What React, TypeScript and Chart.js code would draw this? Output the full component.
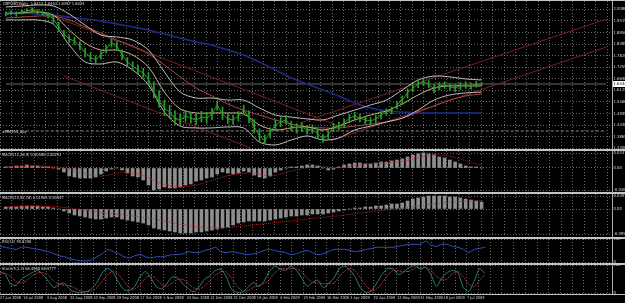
import React, { useEffect, useRef } from "react";
import { Chart, registerables } from "chart.js";

Chart.register(...registerables);

// ---------------- data ----------------
const dateLabels = [
  "27 Jun 2008", "16 Jul 2008", "4 Aug 2008", "22 Aug 2008", "10 Sep 2008", "29 Sep 2008",
  "17 Oct 2008", "5 Nov 2008", "24 Nov 2008", "12 Dec 2008", "31 Dec 2008", "19 Jan 2009",
  "6 Feb 2009", "25 Feb 2009", "16 Mar 2009", "2 Apr 2009", "22 Apr 2009", "12 May 2009",
  "31 May 2009", "18 Jun 2009", "7 Jul 2009",
];
const barsPerLabel = 13;
const sampleStep = 3; // bars between samples
const overlayStep = 9; // bars between overlay samples

const priceHigh = [
  1.995, 2.001, 1.996, 2.004, 2.010, 2.015, 2.006, 2.000, 1.992, 1.978,
  1.945, 1.905, 1.880, 1.872, 1.851, 1.818, 1.796, 1.781, 1.803, 1.832,
  1.862, 1.850, 1.810, 1.772, 1.752, 1.735, 1.720, 1.700, 1.655, 1.610,
  1.565, 1.540, 1.512, 1.498, 1.515, 1.505, 1.495, 1.510, 1.505, 1.525,
  1.560, 1.532, 1.500, 1.492, 1.510, 1.540, 1.512, 1.470, 1.425, 1.395,
  1.430, 1.468, 1.480, 1.490, 1.462, 1.450, 1.455, 1.442, 1.444, 1.425,
  1.398, 1.415, 1.452, 1.458, 1.472, 1.495, 1.505, 1.497, 1.486, 1.480,
  1.490, 1.510, 1.522, 1.532, 1.558, 1.585, 1.620, 1.642, 1.660, 1.668,
  1.660, 1.640, 1.650, 1.654, 1.645, 1.641, 1.650, 1.655, 1.648, 1.656,
  1.650,
];
const priceLow = [
  1.975, 1.980, 1.974, 1.985, 1.990, 1.994, 1.985, 1.979, 1.965, 1.940,
  1.900, 1.868, 1.846, 1.836, 1.810, 1.775, 1.756, 1.742, 1.765, 1.795,
  1.824, 1.806, 1.762, 1.730, 1.712, 1.690, 1.676, 1.640, 1.575, 1.530,
  1.490, 1.475, 1.445, 1.440, 1.462, 1.452, 1.445, 1.458, 1.452, 1.470,
  1.515, 1.470, 1.450, 1.446, 1.462, 1.492, 1.455, 1.405, 1.365, 1.352,
  1.380, 1.420, 1.435, 1.448, 1.415, 1.405, 1.412, 1.398, 1.402, 1.378,
  1.358, 1.372, 1.410, 1.418, 1.432, 1.455, 1.468, 1.458, 1.450, 1.445,
  1.455, 1.472, 1.490, 1.498, 1.520, 1.542, 1.575, 1.605, 1.625, 1.636,
  1.625, 1.600, 1.616, 1.622, 1.612, 1.606, 1.617, 1.622, 1.618, 1.628,
  1.636,
];
const priceClose = [
  1.985, 1.990, 1.985, 1.995, 2.000, 2.005, 1.995, 1.990, 1.980, 1.961,
  1.922, 1.887, 1.863, 1.853, 1.829, 1.795, 1.775, 1.761, 1.785, 1.814,
  1.843, 1.829, 1.785, 1.751, 1.731, 1.712, 1.697, 1.668, 1.604, 1.565,
  1.526, 1.507, 1.477, 1.468, 1.487, 1.477, 1.468, 1.482, 1.477, 1.497,
  1.541, 1.497, 1.473, 1.468, 1.487, 1.516, 1.482, 1.434, 1.390, 1.365,
  1.409, 1.443, 1.458, 1.468, 1.438, 1.429, 1.434, 1.419, 1.424, 1.399,
  1.375, 1.395, 1.434, 1.438, 1.453, 1.477, 1.487, 1.477, 1.468, 1.463,
  1.473, 1.492, 1.507, 1.516, 1.541, 1.565, 1.600, 1.624, 1.643, 1.653,
  1.643, 1.619, 1.634, 1.639, 1.629, 1.624, 1.634, 1.639, 1.634, 1.643,
  1.643,
];
const lastQuote = [1.6412, 1.6463, 1.6397, 1.6434];

const bbUpper = [
  2.019, 2.024, 2.029, 2.024, 1.985, 1.931, 1.882, 1.873, 1.858, 1.809,
  1.702, 1.604, 1.575, 1.575, 1.565, 1.565, 1.526, 1.492, 1.482, 1.473,
  1.468, 1.492, 1.516, 1.541, 1.565, 1.614, 1.663, 1.682, 1.678, 1.668, 1.663,
];
const bbMiddle = [
  1.985, 1.990, 1.995, 1.980, 1.907, 1.843, 1.809, 1.809, 1.785, 1.726,
  1.604, 1.521, 1.502, 1.502, 1.502, 1.497, 1.443, 1.419, 1.429, 1.434,
  1.419, 1.438, 1.468, 1.492, 1.512, 1.546, 1.590, 1.624, 1.634, 1.634, 1.634,
];
const bbLower = [
  1.956, 1.956, 1.956, 1.936, 1.834, 1.751, 1.741, 1.751, 1.712, 1.639,
  1.507, 1.438, 1.429, 1.429, 1.434, 1.429, 1.360, 1.346, 1.370, 1.390,
  1.370, 1.380, 1.419, 1.438, 1.458, 1.477, 1.516, 1.565, 1.590, 1.600, 1.604,
];
const maSlow = [
  1.965, 1.970, 1.975, 1.975, 1.956, 1.922, 1.892, 1.858, 1.829, 1.790,
  1.736, 1.678, 1.624, 1.585, 1.546, 1.516, 1.492, 1.468, 1.448, 1.434,
  1.429, 1.429, 1.438, 1.448, 1.458, 1.477, 1.507, 1.536, 1.565, 1.585, 1.595,
];
const maLong = [
  1.995, 1.990, 1.985, 1.980, 1.970, 1.961, 1.951, 1.936, 1.922, 1.907,
  1.887, 1.868, 1.848, 1.834, 1.809, 1.785, 1.751, 1.712, 1.673, 1.643,
  1.614, 1.585, 1.551, 1.526, 1.512, 1.507, 1.502, 1.502, 1.502, 1.502, 1.502,
];

// channel lines: [barIndex, price] endpoints
const channelDownUpper = [[0, 2.063], [192, 1.429]];
const channelDownLower = [[33, 1.682], [139, 1.331]];
const channelUpUpper = [[167, 1.453], [341, 1.961]];
const channelUpLower = [[184, 1.365], [341, 1.824]];
const buyLevel = 1.414;

const priceTicks = [2.008, 1.9515, 1.895, 1.8385, 1.782, 1.7255, 1.669, 1.6125, 1.556, 1.4995, 1.443, 1.3865, 1.33];

const macd1Hist = [
  0.0017, 0.0017, 0.0033, 0.0033, 0.005, 0.0033, 0.0033, 0.0017, 0.0017, 0.0,
  -0.0017, -0.0066, -0.0132, -0.0149, -0.0165, -0.0165, -0.0165, -0.0149, -0.0099, -0.005,
  -0.0017, 0.0, -0.0033, -0.0083, -0.0132, -0.0149, -0.0198, -0.0281, -0.0363, -0.0347,
  -0.0314, -0.033, -0.033, -0.0314, -0.0281, -0.0264, -0.0215, -0.0198, -0.0165, -0.0149,
  -0.0099, -0.0066, -0.0083, -0.0099, -0.0083, -0.005, -0.0066, -0.0116, -0.0149, -0.0165,
  -0.0132, -0.0066, -0.0033, 0.0, 0.0017, 0.0017, 0.0033, 0.005, 0.005, 0.0033,
  0.0, -0.0033, -0.0017, 0.0017, 0.005, 0.0066, 0.0083, 0.0083, 0.0066, 0.0066,
  0.0083, 0.0099, 0.0099, 0.0116, 0.0132, 0.0149, 0.0182, 0.0215, 0.0231, 0.0248,
  0.0231, 0.0215, 0.0182, 0.0165, 0.0132, 0.0099, 0.0066, 0.0033, 0.0017, 0.0017,
  0.0,
];
const macd1Signal = [
  0.002, 0.002, 0.0022, 0.0025, 0.003, 0.0033, 0.0034, 0.0032, 0.0028, 0.0022,
  0.0015, 0.0003, -0.002, -0.0045, -0.007, -0.0095, -0.0115, -0.013, -0.0135, -0.0125,
  -0.0105, -0.0085, -0.007, -0.0068, -0.008, -0.01, -0.0125, -0.016, -0.0205, -0.0245,
  -0.027, -0.029, -0.0305, -0.031, -0.0305, -0.0295, -0.028, -0.026, -0.0235, -0.021,
  -0.018, -0.015, -0.0125, -0.011, -0.01, -0.009, -0.008, -0.0085, -0.01, -0.012,
  -0.013, -0.012, -0.01, -0.0075, -0.005, -0.003, -0.0012, 0.0005, 0.002, 0.003,
  0.0028, 0.0015, 0.0005, 0.0003, 0.0012, 0.0025, 0.004, 0.0055, 0.0063, 0.0068,
  0.0072, 0.0078, 0.0085, 0.0093, 0.0102, 0.0113, 0.0128, 0.0148, 0.017, 0.0192,
  0.0208, 0.0217, 0.0218, 0.021, 0.0195, 0.0175, 0.015, 0.0122, 0.0095, 0.007,
  0.005,
];
const macd2Hist = [
  0.0076, 0.0076, 0.0076, 0.0114, 0.0114, 0.0114, 0.0114, 0.0076, 0.0076, 0.0038,
  0.0, -0.0076, -0.0152, -0.0228, -0.0266, -0.0304, -0.0342, -0.038, -0.038, -0.0342,
  -0.0304, -0.0304, -0.038, -0.0418, -0.0456, -0.0494, -0.0532, -0.0608, -0.0722, -0.076,
  -0.0798, -0.0836, -0.0874, -0.0912, -0.0912, -0.0912, -0.0874, -0.0874, -0.0836, -0.0798,
  -0.076, -0.0722, -0.0684, -0.0608, -0.0532, -0.0494, -0.0456, -0.0456, -0.0456, -0.0456,
  -0.0418, -0.038, -0.0342, -0.0304, -0.0266, -0.0266, -0.0228, -0.0228, -0.019, -0.019,
  -0.019, -0.0152, -0.0114, -0.0076, -0.0038, 0.0, 0.0038, 0.0038, 0.0076, 0.0076,
  0.0114, 0.0114, 0.0152, 0.019, 0.019, 0.0228, 0.0304, 0.038, 0.0418, 0.0456,
  0.0494, 0.0494, 0.0494, 0.0494, 0.0456, 0.0456, 0.0418, 0.038, 0.0342, 0.0304,
  0.0266,
];
const macd2Signal = [
  0.008, 0.0082, 0.0085, 0.009, 0.0095, 0.01, 0.0102, 0.01, 0.0095, 0.0088,
  0.0078, 0.0062, 0.004, 0.0015, -0.001, -0.004, -0.007, -0.01, -0.013, -0.0155,
  -0.0175, -0.019, -0.021, -0.0235, -0.026, -0.0285, -0.031, -0.034, -0.038, -0.042,
  -0.046, -0.05, -0.054, -0.058, -0.0615, -0.0645, -0.067, -0.069, -0.0705, -0.0712,
  -0.0715, -0.0712, -0.0705, -0.069, -0.067, -0.0648, -0.0625, -0.06, -0.0578, -0.0558,
  -0.054, -0.052, -0.0498, -0.0475, -0.045, -0.0428, -0.0405, -0.0385, -0.0362, -0.034,
  -0.032, -0.03, -0.0278, -0.0255, -0.023, -0.0205, -0.018, -0.0155, -0.013, -0.0105,
  -0.008, -0.0058, -0.0035, -0.0012, 0.001, 0.0032, 0.0058, 0.0085, 0.0112, 0.014,
  0.0168, 0.0195, 0.022, 0.0242, 0.026, 0.0275, 0.0288, 0.0298, 0.0305, 0.0308,
  0.0308,
];
const rsiValues = [
  68, 64, 59, 55, 64, 64, 59, 55, 50, 45,
  36, 27, 23, 14, 9, 5, 5, 9, 23, 36,
  55, 45, 36, 23, 18, 27, 32, 23, 18, 23,
  23, 27, 32, 32, 36, 45, 41, 41, 50, 55,
  64, 45, 41, 45, 41, 36, 32, 36, 41, 50,
  55, 50, 45, 41, 32, 36, 45, 50, 41, 32,
  36, 45, 55, 55, 55, 50, 45, 50, 55, 59,
  64, 64, 64, 64, 68, 73, 77, 77, 77, 91,
  73, 68, 77, 77, 68, 64, 55, 41, 55, 59,
  64,
];
const stochMain = [
  77, 65, 31, 27, 50, 62, 73, 81, 65, 42,
  19, 31, 35, 12, 4, 2, 5, 15, 38, 73,
  88, 73, 38, 12, 8, 23, 58, 77, 54, 23,
  15, 35, 58, 54, 31, 15, 4, 23, 50, 62,
  81, 85, 58, 12, 2, 3, 19, 38, 23, 42,
  77, 96, 85, 81, 96, 81, 54, 23, 38, 46,
  19, 35, 54, 88, 96, 81, 54, 15, 2, 8,
  38, 69, 88, 85, 65, 77, 92, 98, 85, 92,
  65, 23, 54, 73, 81, 73, 19, 5, 42, 88,
  69,
];
const stochSignal = [
  72, 70, 58, 41, 36, 46, 62, 72, 73, 63,
  42, 31, 28, 26, 17, 7, 4, 7, 19, 42,
  66, 78, 66, 41, 19, 14, 30, 53, 63, 51,
  31, 24, 36, 49, 48, 33, 17, 14, 26, 45,
  64, 76, 75, 52, 24, 6, 8, 20, 27, 34,
  47, 72, 86, 87, 87, 86, 77, 53, 38, 36,
  34, 33, 36, 59, 79, 88, 77, 50, 24, 8,
  16, 38, 65, 81, 79, 76, 78, 89, 92, 92,
  81, 60, 47, 50, 69, 76, 58, 32, 22, 45,
  66,
];

// ---------------- layout ----------------
const X_MIN = 0;
const X_MAX = 340.75;
const AXIS_W = 13;
const GRID_COLOR = "rgba(125,125,125,0.8)";
const FONT = "'Liberation Sans Narrow', 'DejaVu Sans Condensed', 'Liberation Sans', sans-serif";
const TXT = "#d8d8d8";

const pts = (vals: number[], step: number) => vals.map((v, k) => ({ x: k * step, y: v }));
const seg = (p: number[][]) => p.map(([x, y]) => ({ x, y }));

function xScale(showLabels: boolean) {
  return {
    type: "linear",
    min: X_MIN,
    max: X_MAX,
    grid: { color: GRID_COLOR, lineWidth: 1, drawTicks: false },
    border: { display: false, dash: [1, 2] },
    ticks: {
      display: showLabels,
      autoSkip: false,
      maxRotation: 0,
      minRotation: 0,
      align: "start",
      padding: 2.5,
      color: TXT,
      font: { size: 3.9, family: FONT },
      callback: (_v: number, i: number) => (i % 2 === 0 ? dateLabels[i / 2] ?? "" : ""),
    },
    afterBuildTicks: (s: any) => {
      const t = [];
      for (let v = 0; v <= X_MAX; v += barsPerLabel / 2) t.push({ value: v });
      s.ticks = t;
    },
    afterFit: (s: any) => {
      s.height = showLabels ? 10 : 0;
      s.paddingLeft = 0;
      s.paddingRight = 0;
      s.paddingTop = 0;
      s.paddingBottom = 0;
    },
  };
}

function yScale(min: number, max: number, ticks: number[], labels: string[]) {
  return {
    type: "linear",
    position: "right",
    min,
    max,
    grid: { color: GRID_COLOR, lineWidth: 1, drawTicks: false },
    border: { display: true, color: "#a8a8a8", width: 1, dash: [1, 2] },
    ticks: {
      autoSkip: false,
      padding: 1.5,
      color: TXT,
      font: { size: 4.2, family: FONT },
      callback: (_v: number, i: number) => labels[i] ?? "",
    },
    afterBuildTicks: (s: any) => {
      s.ticks = ticks.map((v) => ({ value: v }));
    },
    afterFit: (s: any) => {
      s.width = AXIS_W;
      s.paddingTop = 0;
      s.paddingBottom = 0;
    },
  };
}

function baseOptions(y: any, showX: boolean, bottomPad: number) {
  return {
    responsive: false,
    animation: false,
    events: [],
    layout: { padding: { top: 3, bottom: bottomPad, left: 0, right: 0 } },
    plugins: { legend: { display: false }, tooltip: { enabled: false } },
    scales: { x: xScale(showX), y },
  };
}

const line = (data: any, color: string, width = 1, extra: any = {}) => ({
  type: "line",
  data,
  borderColor: color,
  borderWidth: width,
  pointRadius: 0,
  fill: false,
  ...extra,
});

const priceTagPlugin = {
  id: "priceTag",
  afterDraw(chart: any) {
    const ctx = chart.ctx;
    const y = chart.scales.y.getPixelForValue(lastQuote[3]);
    const x0 = chart.chartArea.right + 1;
    ctx.save();
    ctx.fillStyle = "#ffffff";
    ctx.fillRect(x0, y - 3, 12, 6);
    ctx.fillStyle = "#000000";
    ctx.font = `4.2px ${FONT}`;
    ctx.textBaseline = "middle";
    ctx.fillText(lastQuote[3].toFixed(4), x0 + 0.5, y + 0.3);
    ctx.restore();
  },
};

function mainConfig(): any {
  const bars = priceLow.map((lo, k) => ({ x: k * sampleStep, y: [lo, priceHigh[k]] }));
  return {
    type: "line",
    data: {
      datasets: [
        { type: "bar", data: bars, backgroundColor: "#2a9f2a", barThickness: 1, order: 0 },
        line(pts(priceClose, sampleStep), "#2d9a2d", 1, { order: 0 }),
        line(pts(bbUpper, overlayStep), "#bdbdbd", 1, { tension: 0.3, order: 2 }),
        line(pts(bbLower, overlayStep), "#bdbdbd", 1, { tension: 0.3, order: 2 }),
        line(pts(bbMiddle, overlayStep), "#c9b686", 1, { tension: 0.3, order: 2 }),
        line(pts(maSlow, overlayStep), "#a84848", 1, { tension: 0.3, order: 3 }),
        line(pts(maLong, overlayStep), "#1f2a8c", 1.5, { tension: 0.3, order: 3 }),
        line(seg(channelDownUpper), "#7a2020", 1, { order: 4 }),
        line(seg(channelDownLower), "#7a2020", 1, { order: 4 }),
        line(seg(channelUpUpper), "#7a2020", 1, { order: 4 }),
        line(seg(channelUpLower), "#7a2020", 1, { order: 4 }),
        line([{ x: X_MIN, y: buyLevel }, { x: X_MAX, y: buyLevel }], "#8a8a8a", 1, { borderDash: [3, 2], order: 5 }),
        line([{ x: X_MIN, y: lastQuote[3] }, { x: X_MAX, y: lastQuote[3] }], "#6a6a6a", 1, { order: 5 }),
      ],
    },
    options: baseOptions(
      yScale(1.3262, 2.0484, priceTicks, priceTicks.map((v) => v.toFixed(4))),
      false,
      3
    ),
    plugins: [priceTagPlugin],
  };
}

function macdConfig(hist: number[], signal: number[], min: number, max: number, ticks: number[], labels: string[]): any {
  return {
    type: "line",
    data: {
      datasets: [
        line(pts(signal, sampleStep), "#b02525", 1, { borderDash: [1, 1], order: 0 }),
        { type: "bar", data: pts(hist, sampleStep), backgroundColor: "#8e8e8e", barThickness: 3, order: 1 },
      ],
    },
    options: baseOptions(yScale(min, max, ticks, labels), false, 3),
  };
}

function rsiConfig(): any {
  return {
    type: "line",
    data: { datasets: [line(pts(rsiValues, sampleStep), "#3552c8", 1, { tension: 0.2 })] },
    options: baseOptions(yScale(0, 100, [100, 0], ["100", "0"]), false, 3),
  };
}

function stochConfig(): any {
  return {
    type: "line",
    data: {
      datasets: [
        line(pts(stochSignal, sampleStep), "#b8372e", 1, { borderDash: [2, 1], tension: 0.2, order: 0 }),
        line(pts(stochMain, sampleStep), "#2f7f79", 1, { tension: 0.2, order: 1 }),
      ],
    },
    options: baseOptions(yScale(0, 100, [100, 0], ["100", "0"]), true, 0),
  };
}

const SEP = "#c4c4c4";

export default function App() {
  const mainRef = useRef<HTMLCanvasElement>(null);
  const m1Ref = useRef<HTMLCanvasElement>(null);
  const m2Ref = useRef<HTMLCanvasElement>(null);
  const rsiRef = useRef<HTMLCanvasElement>(null);
  const stRef = useRef<HTMLCanvasElement>(null);

  useEffect(() => {
    const charts: Chart[] = [];
    charts.push(new Chart(mainRef.current as HTMLCanvasElement, mainConfig()));
    charts.push(
      new Chart(
        m1Ref.current as HTMLCanvasElement,
        macdConfig(macd1Hist, macd1Signal, -0.0396, 0.02805, [0.0247, 0, -0.0363], ["0.02474", "0.00", "-0.03628"])
      )
    );
    charts.push(
      new Chart(
        m2Ref.current as HTMLCanvasElement,
        macdConfig(macd2Hist, macd2Signal, -0.1026, 0.057, [0.0491, 0, -0.0956], ["0.04912", "0.00", "-0.09555"])
      )
    );
    charts.push(new Chart(rsiRef.current as HTMLCanvasElement, rsiConfig()));
    charts.push(new Chart(stRef.current as HTMLCanvasElement, stochConfig()));
    return () => charts.forEach((c) => c.destroy());
  }, []);

  const cv = (ref: any, top: number, h: number) => (
    <canvas ref={ref} width={625} height={h} style={{ position: "absolute", left: 0, top, display: "block" }} />
  );
  const sep = (top: number, h = 2) => (
    <div style={{ position: "absolute", left: 0, top, width: 625, height: h, background: SEP }} />
  );
  const label = (text: string, left: number, top: number) => (
    <span
      style={{
        position: "absolute",
        left,
        top,
        fontSize: 4,
        lineHeight: "5px",
        color: TXT,
        whiteSpace: "pre",
        fontFamily: FONT,
      }}
    >
      {text}
    </span>
  );

  return (
    <div
      style={{
        position: "fixed",
        left: 0,
        top: 0,
        width: 625,
        height: 303,
        background: "#000000",
        overflow: "hidden",
      }}
    >
      {sep(0, 1)}
      {sep(149)}
      {sep(192)}
      {sep(237)}
      {sep(263)}
      {sep(294, 1)}
      {cv(mainRef, -2, 154)}
      {cv(m1Ref, 148, 47)}
      {cv(m2Ref, 191, 48)}
      {cv(rsiRef, 236, 29)}
      {cv(stRef, 262, 41)}
      {label("GBPUSD,Daily  1.6412 1.6463 1.6397 1.6434", 3, 1)}
      {label("#MM153_buy", 2, 129)}
      {label("MACD(12,26,9) 0.00480 0.00251", 2, 152)}
      {label("MACD(24,52,18) 0.01503 0.00447", 2, 195)}
      {label("RSI(14) 55.8298", 2, 239)}
      {label("Stoch(5,3,3) 66.4558 68.9777", 2, 266)}
    </div>
  );
}
